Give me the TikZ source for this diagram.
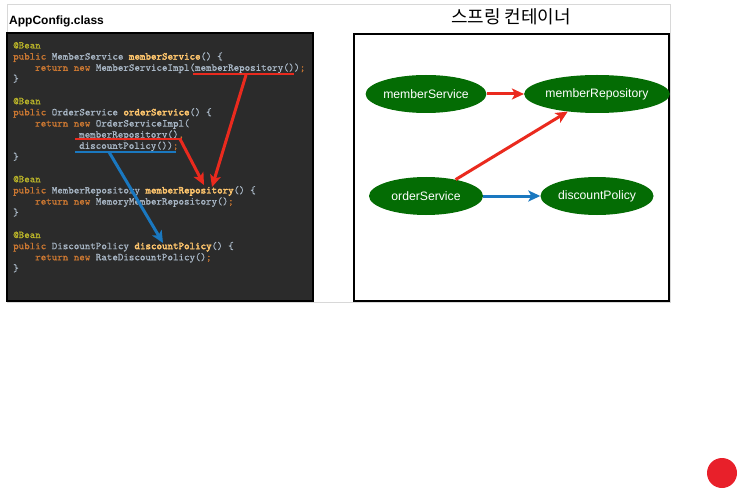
\documentclass[tikz,border=0pt]{standalone}
\usepackage{fontspec}
\setmainfont{Liberation Sans}
\newfontfamily\krfont{Noto Sans CJK KR}
\newfontfamily\codefont{Latin Modern Mono}[FakeBold=0.7, BoldFont={Latin Modern Mono}, BoldFeatures={FakeBold=2.6}]
\usetikzlibrary{shapes.geometric,arrows.meta}
\definecolor{codebg}{HTML}{2B2B2B}
\definecolor{cAnno}{HTML}{BBB529}
\definecolor{cKey}{HTML}{CC7832}
\definecolor{cText}{HTML}{A9B7C6}
\definecolor{cFunc}{HTML}{FFC66D}
\definecolor{beangreen}{HTML}{046C04}
\definecolor{arrred}{HTML}{EA2A1E}
\definecolor{arrblue}{HTML}{1A78C0}
\definecolor{dotred}{HTML}{E8202A}
\definecolor{framegray}{HTML}{D8D8D8}
\newcommand\cAn[1]{\textcolor{cAnno}{#1}}
\newcommand\cKw[1]{\textcolor{cKey}{#1}}
\newcommand\cTx[1]{\textcolor{cText}{#1}}
\newcommand\cFn[1]{\textcolor{cFunc}{\bfseries #1}}
\tikzset{
  codeline/.style={anchor=base west, inner sep=0pt, font=\codefont\fontsize{10.5}{12}\selectfont, text=cText},
  bean/.style={ellipse, fill=beangreen, draw=none, text=white, inner sep=0pt, minimum height=38pt, font=\fontsize{12.2}{14}\selectfont},
  redarrow/.style={draw=arrred, line width=3pt, -{Stealth[length=12pt,width=11pt,inset=3pt]}},
  bluearrow/.style={draw=arrblue, line width=3pt, -{Stealth[length=12pt,width=11pt,inset=3pt]}},
  redline/.style={draw=arrred, line width=2.2pt},
  blueline/.style={draw=arrblue, line width=2.2pt},
  panel/.style={line width=1.6pt, draw=black}
}
\begin{document}
\begin{tikzpicture}[x=1pt,y=-1pt]
\useasboundingbox (0,0) rectangle (738,489);
% outer frame
\draw[framegray, line width=0.8pt] (7,4) rectangle (670,302);
% title
\node[anchor=base west, inner sep=0pt, font=\bfseries\fontsize{12}{14}\selectfont] (apptitle) at (9,24.5) {AppConfig.class};
\node[inner sep=0pt, font=\krfont\fontsize{18}{20}\selectfont] (ctitle) at (511,16.5) {스프링 컨테이너};
% panels
\draw[panel, fill=codebg] (7,33) rectangle (313,301);
\draw[panel, fill=white] (354,34) rectangle (669,301);
% code lines (baseline = 48.5 + 11.15 i, x = 13 + 5.5 col)
\node[codeline] (l0) at (13,48.5) {\cAn{@Bean}};
\node[codeline] (l1) at (13,59.65) {\cKw{public} \cTx{MemberService} \cFn{memberService}\cTx{() \{}};
\node[codeline] (l2) at (35,70.8) {\cKw{return new} \cTx{MemberServiceImpl(memberRepository())}\cKw{;}};
\node[codeline] (l3) at (13,81.95) {\cTx{\}}};
\node[codeline] (l5) at (13,104.25) {\cAn{@Bean}};
\node[codeline] (l6) at (13,115.4) {\cKw{public} \cTx{OrderService} \cFn{orderService}\cTx{() \{}};
\node[codeline] (l7) at (35,126.55) {\cKw{return new} \cTx{OrderServiceImpl(}};
\node[codeline] (l8) at (79,137.7) {\cTx{memberRepository()}\cKw{,}};
\node[codeline] (l9) at (79,148.85) {\cTx{discountPolicy())}\cKw{;}};
\node[codeline] (l10) at (13,160) {\cTx{\}}};
\node[codeline] (l12) at (13,182.3) {\cAn{@Bean}};
\node[codeline] (l13) at (13,193.45) {\cKw{public} \cTx{MemberRepository} \cFn{memberRepository}\cTx{() \{}};
\node[codeline] (l14) at (35,204.6) {\cKw{return new} \cTx{MemoryMemberRepository()}\cKw{;}};
\node[codeline] (l15) at (13,215.75) {\cTx{\}}};
\node[codeline] (l17) at (13,238.05) {\cAn{@Bean}};
\node[codeline] (l18) at (13,249.2) {\cKw{public} \cTx{DiscountPolicy} \cFn{discountPolicy}\cTx{() \{}};
\node[codeline] (l19) at (35,260.35) {\cKw{return new} \cTx{RateDiscountPolicy()}\cKw{;}};
\node[codeline] (l20) at (13,271.5) {\cTx{\}}};
% underline and arrow end coordinates
\coordinate (u1a) at (193,74);
\coordinate (u1b) at (294,74);
\coordinate (u2a) at (75,139);
\coordinate (u2b) at (182,139);
\coordinate (u3a) at (75,152);
\coordinate (u3b) at (176,152);
\coordinate (a1s) at (246,75);
\coordinate (a1e) at (212,187);
\coordinate (a2s) at (180,139);
\coordinate (a2e) at (204,185);
\coordinate (a3s) at (109,152);
\coordinate (a3e) at (163,243);
\draw[redline] (u1a) -- (u1b);
\draw[redline] (u2a) -- (u2b);
\draw[blueline] (u3a) -- (u3b);
\draw[redarrow] (a1s) -- (a1e);
\draw[redarrow] (a2s) -- (a2e);
\draw[bluearrow] (a3s) -- (a3e);
% container beans
\node[bean, minimum width=114pt] (mS) at (426,94) {memberService};
\node[bean, minimum width=133pt] (mR) at (597,94) {memberRepository};
\node[bean, minimum width=114pt] (oS) at (426,196) {orderService};
\node[bean, minimum width=113pt] (dP) at (597,196) {discountPolicy};
\draw[redarrow] (mS.east) -- (mR.west);
\draw[redarrow] (oS.29) -- (mR.211);
\draw[bluearrow] (oS.east) -- (dP.west);
% red dot
\fill[dotred] (722,473) circle (15);
\end{tikzpicture}
\end{document}
